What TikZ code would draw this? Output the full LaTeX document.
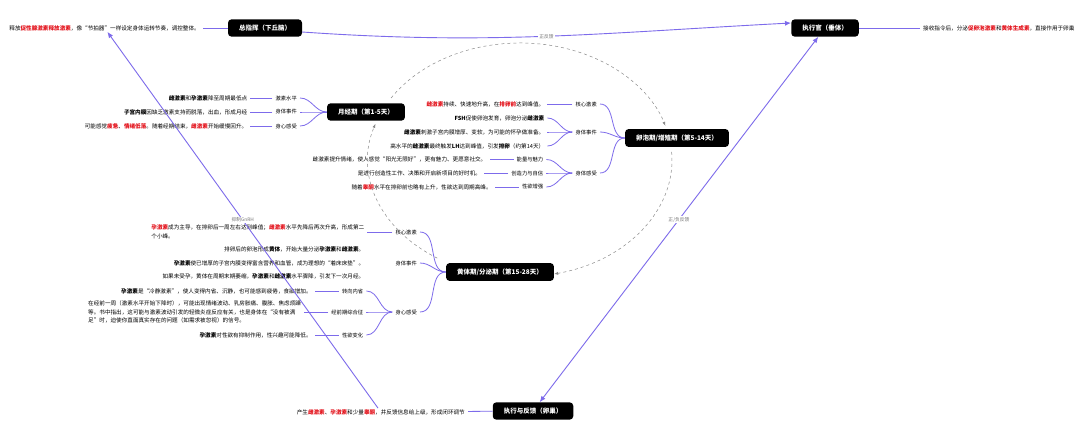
\documentclass[tikz,border=0pt]{standalone}
\usepackage{fontspec}
\setmainfont{Noto Sans CJK SC}
\usepackage{xcolor}
\usepackage{tikz}
\usetikzlibrary{arrows.meta,positioning}
\definecolor{mmPurple}{HTML}{7D6BEB}
\definecolor{mmRed}{HTML}{E3121B}
\definecolor{mmGrey}{HTML}{8A8A8A}
\newcommand{\redbf}[1]{\textcolor{mmRed}{\textbf{#1}}}

\begin{document}
\begin{tikzpicture}[x=1pt,y=1pt,
  stage/.style={fill=black,text=white,rounded corners=3.5pt,inner xsep=11pt,inner ysep=5.5pt,font=\fontsize{6.5}{8}\selectfont\bfseries},
  tag/.style={inner xsep=3pt,inner ysep=1pt,font=\fontsize{5.3}{7}\selectfont},
  txt/.style={inner xsep=3pt,inner ysep=1pt,align=left,font=\fontsize{5.6}{8.6}\selectfont},
  br/.style={mmPurple,line width=0.8pt},
  rel/.style={mmPurple,line width=0.9pt},
  cyc/.style={mmGrey,dashed,line width=0.5pt,-{Latex[length=4pt,width=3pt]}},
  lbl/.style={fill=white,text=mmGrey!85!black,inner sep=1pt,font=\fontsize{4.8}{6}\selectfont}]
\fill[white] (0,0) rectangle (1080,-425);
\useasboundingbox (0,0) rectangle (1080,-425);

% main stages
\node[stage] (hyp) at (265,-28) {总指挥（下丘脑）};
\node[stage] (pit) at (825,-28) {执行官（垂体）};
\node[stage] (men) at (366,-112) {月经期（第1-5天）};
\node[stage] (fol) at (677,-138) {卵泡期/增殖期（第5-14天）};
\node[stage] (lut) at (500,-272) {黄体期/分泌期（第15-28天）};
\node[stage] (ova) at (533,-411) {执行与反馈（卵巢）};

\node[txt,anchor=east] (hyptxt) at (203,-28) {释放\redbf{促性腺激素释放激素}，像“节拍器”一样设定身体运转节奏，调控整体。};
\node[txt,anchor=west] (pittxt) at (920,-28) {接收指令后，分泌\redbf{促卵泡激素}和\redbf{黄体生成素}，直接作用于卵巢};
\node[txt,anchor=east] (ovatxt) at (468,-412) {产生\redbf{雌激素}、\redbf{孕激素}和少量\redbf{睾酮}，并反馈信息给上级，形成闭环调节};

% menstrual phase
\node[tag,anchor=east] (m1) at (300,-98) {激素水平};
\node[tag,anchor=east] (m2) at (300,-112) {身体事件};
\node[tag,anchor=east] (m3) at (300,-126) {身心感受};
\node[txt,left=22pt of m1] (mt1) {\textbf{雌激素}和\textbf{孕激素}降至周期最低点};
\node[txt,left=22pt of m2] (mt2) {\textbf{子宫内膜}因缺乏激素支持而脱落，出血，形成月经};
\node[txt,left=22pt of m3] (mt3) {可能感觉\redbf{疲惫}、\redbf{情绪低落}。随着经期结束，\redbf{雌激素}开始缓慢回升。};

% follicular phase
\node[tag,anchor=east] (f1) at (600,-104) {核心激素};
\node[tag,anchor=east] (f2) at (600,-132) {身体事件};
\node[tag,anchor=east] (f3) at (600,-173) {身体感受};
\node[txt,left=25pt of f1] (ft1) {\redbf{雌激素}持续、快速地升高，在\redbf{排卵前}达到峰值。};
\node[txt,left=25pt of f2,yshift=14pt] (fe1) {\textbf{FSH}促使卵泡发育，卵泡分泌\textbf{雌激素}};
\node[txt,left=25pt of f2] (fe2) {\textbf{雌激素}刺激子宫内膜增厚、变软，为可能的怀孕做准备。};
\node[txt,left=25pt of f2,yshift=-14pt] (fe3) {高水平的\textbf{雌激素}最终触发\textbf{LH}达到峰值，引发\textbf{排卵}（约第14天）};
\node[tag,left=26pt of f3,yshift=13.5pt] (g1) {能量与魅力};
\node[tag,left=26pt of f3] (g2) {创造力与自信};
\node[tag,left=26pt of f3,yshift=-14pt] (g3) {性欲增强};
\node[txt,left=24pt of g1] (gt1) {雌激素提升情绪，使人感觉“阳光无限好”，更有魅力、更愿意社交。};
\node[txt,left=24pt of g2] (gt2) {是进行创造性工作、决策和开启新项目的好时机。};
\node[txt,left=24pt of g3] (gt3) {随着\redbf{睾酮}水平在排卵前也略有上升，性欲达到周期高峰。};

% luteal phase
\node[tag,anchor=east] (l1) at (420,-232) {核心激素};
\node[tag,anchor=east] (l2) at (420,-263) {身体事件};
\node[tag,anchor=east] (l3) at (420,-312) {身心感受};
\node[txt,left=25pt of l1] (lt1) {\redbf{孕激素}成为主导，在排卵后一周左右达到峰值；\redbf{雌激素}水平先降后再次升高，形成第二\\个小峰。};
\node[txt,left=25pt of l2,yshift=13.5pt] (le1) {排卵后的卵泡形成\textbf{黄体}，开始大量分泌\textbf{孕激素}和\textbf{雌激素}。};
\node[txt,left=25pt of l2] (le2) {\textbf{孕激素}使已增厚的子宫内膜变得富含营养和血管，成为理想的“着床床垫”。};
\node[txt,left=25pt of l2,yshift=-13.5pt] (le3) {如果未受孕，黄体在周期末期萎缩，\textbf{孕激素}和\textbf{雌激素}水平骤降，引发下一次月经。};
\node[tag,left=26pt of l3,yshift=21pt] (h1) {转向内省};
\node[tag,left=26pt of l3] (h2) {经前期综合征};
\node[tag,left=26pt of l3,yshift=-23pt] (h3) {性欲变化};
\node[txt,left=24pt of h1] (ht1) {\textbf{孕激素}是“冷静激素”，使人变得内省、沉静，也可能感到疲倦，食欲增加。};
\node[txt,left=24pt of h2] (ht2) {在经前一周（激素水平开始下降时），可能出现情绪波动、乳房胀痛、腹胀、焦虑烦躁\\等。书中指出，这可能与激素波动引发的轻微炎症反应有关，也是身体在“没有被满\\足”时，迫使你直面真实存在的问题（如需求被忽视）的信号。};
\node[txt,left=24pt of h3] (ht3) {\textbf{孕激素}对性欲有抑制作用，性兴趣可能降低。};

% branches
\draw[br] (hyp) -- (hyptxt);
\draw[br] (pit) -- (pittxt);
\draw[br] (ova) -- (ovatxt);
\foreach \p/\c in {men/m1,men/m2,men/m3,fol/f1,fol/f2,fol/f3,f2/fe1,f2/fe2,f2/fe3,
                   f3/g1,f3/g2,f3/g3,lut/l1,lut/l2,lut/l3,l3/h1,l3/h2,l3/h3}
  \draw[br] (\p.west) to[out=180,in=0] (\c.east);
\foreach \a/\b in {m1/mt1,m2/mt2,m3/mt3,f1/ft1,g1/gt1,g2/gt2,g3/gt3,l1/lt1,h1/ht1,h2/ht2,h3/ht3}
  \draw[br] (\a.west) -- (\b.east);

% cycle
\coordinate (loopc) at (520,-160);
\draw[cyc] ([shift={(148:152pt and 117pt)}]loopc) arc[start angle=148,end angle=17,x radius=152pt,y radius=117pt];
\draw[cyc] ([shift={(4:152pt and 117pt)}]loopc) arc[start angle=4,end angle=-77,x radius=152pt,y radius=117pt];
\draw[cyc] ([shift={(237:152pt and 117pt)}]loopc) arc[start angle=237,end angle=162,x radius=152pt,y radius=117pt];

% feedback
\draw[rel,-{Latex[length=6pt,width=5pt]}] ([yshift=-4pt]hyp.east) to[out=-4,in=183] node[lbl]{正反馈} ([yshift=5pt]pit.west);
\draw[rel,{Latex[length=6pt,width=5pt]}-{Latex[length=6pt,width=5pt]}] (pit) -- node[lbl]{正/负反馈} (ova);
\draw[rel,-{Latex[length=6pt,width=5pt]}] (ovatxt) -- node[lbl]{抑制GnRH} (hyptxt);
\end{tikzpicture}
\end{document}
